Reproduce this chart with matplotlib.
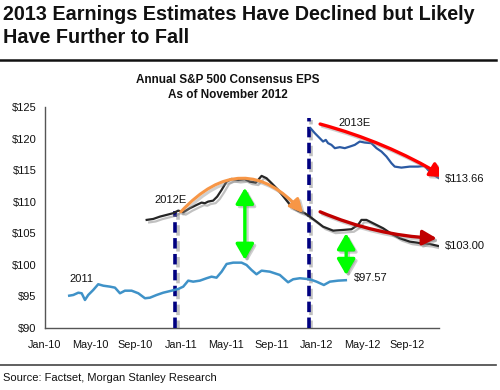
import matplotlib
matplotlib.use("Agg")
import matplotlib.pyplot as plt
import matplotlib.patheffects as pe
import matplotlib.transforms as mtransforms
from matplotlib.patches import FancyArrowPatch
from matplotlib.lines import Line2D

plt.rcParams['font.family'] = ['Liberation Sans', 'DejaVu Sans']

# x = months since Jan-2010
tick_pos = [0, 4, 8, 12, 16, 20, 24, 28, 32]
tick_labels = ["Jan-10", "May-10", "Sep-10", "Jan-11", "May-11", "Sep-11", "Jan-12", "May-12", "Sep-12"]
y_ticks = [90, 95, 100, 105, 110, 115, 120, 125]

eps2011_x = [2.14, 2.50, 2.94, 3.24, 3.53, 3.82, 4.26, 4.70, 5.15, 5.74, 6.18, 6.62, 7.06, 7.65, 8.24,
             8.83, 9.27, 9.86, 10.44, 11.18, 11.77, 12.21, 12.65, 13.09, 13.68, 14.27, 14.71, 15.15,
             15.60, 16.04, 16.62, 17.36, 17.80, 18.24, 18.68, 19.13, 19.86, 20.74, 21.47, 21.92,
             22.51, 23.39, 23.98, 24.63, 25.16, 25.89, 26.57]
eps2011_y = [95.12, 95.23, 95.59, 95.50, 94.44, 95.23, 96.02, 96.93, 96.70, 96.55, 96.39, 95.50, 95.91,
             95.91, 95.50, 94.71, 94.80, 95.23, 95.59, 95.91, 96.18, 96.55, 97.50, 97.34, 97.50, 97.88,
             98.13, 97.97, 98.92, 100.14, 100.35, 100.35, 99.98, 99.19, 98.51, 99.08, 98.92, 98.40,
             97.24, 97.72, 97.88, 97.72, 97.34, 96.81, 97.34, 97.50, 97.57]

eps2012_x = [8.98, 9.56, 10.15, 10.74, 11.32, 11.77, 12.21, 12.80, 13.39, 13.83, 14.12, 14.41, 14.85,
             15.21, 15.60, 16.04, 16.48, 17.06, 17.65, 18.09, 18.62, 18.83, 19.13, 19.57, 20.01, 20.59,
             21.18, 21.77, 22.36, 22.95, 23.39, 23.98, 24.56, 25.45, 26.33, 27.07, 27.65, 27.95, 28.39,
             28.98, 29.86, 30.45, 31.33, 32.22, 33.25, 33.98, 34.71]
eps2012_y = [107.12, 107.27, 107.64, 107.91, 108.18, 108.59, 108.34, 108.97, 109.49, 109.86, 109.76,
             110.02, 110.17, 110.81, 111.87, 113.19, 113.61, 113.45, 113.56, 113.19, 113.03, 113.45,
             114.09, 113.72, 112.93, 111.87, 110.55, 109.22, 108.59, 108.18, 107.64, 106.85, 106.05,
             105.42, 105.53, 105.64, 106.32, 107.12, 107.12, 106.59, 105.80, 105.10, 104.22, 103.68,
             103.42, 103.31, 103.00]

eps2013_x = [23.45, 23.83, 24.27, 24.56, 24.80, 25.00, 25.30, 25.60, 26.04, 26.48, 26.92, 27.36, 27.80,
             28.24, 28.83, 29.28, 29.72, 30.16, 30.60, 30.89, 31.48, 32.22, 32.95, 33.54, 33.83, 34.13,
             34.57, 34.86]
eps2013_y = [121.65, 120.86, 120.06, 119.53, 119.79, 119.27, 119.00, 118.48, 118.64, 118.48, 118.73,
             119.00, 119.53, 119.37, 119.27, 118.48, 117.94, 117.15, 116.10, 115.56, 115.40, 115.56,
             115.56, 115.67, 115.04, 114.52, 113.98, 113.66]

vline_x = [11.5, 23.3]
vline_top = [108.6, 123.3]

W, H = 500, 390
fig = plt.figure(figsize=(W / 100, H / 100), dpi=100)

def fx(px):
    return px / W

def fy(py):
    return 1 - py / H

ax = fig.add_axes([fx(45), fy(328), fx(439) - fx(45), fy(107) - fy(328)])
ax.set_xlim(0, 34.8)
ax.set_ylim(90, 125)

shadow = [pe.SimpleLineShadow(offset=(1.8, -1.8), shadow_color='#777777', alpha=0.45), pe.Normal()]

for vx, vt in zip(vline_x, vline_top):
    ax.plot([vx, vx], [90, vt], color='#000080', lw=2.6, dashes=(2.9, 1.5),
            path_effects=shadow, zorder=3, solid_capstyle='butt', dash_capstyle='butt')

ax.plot(eps2011_x, eps2011_y, color='#3f92c8', lw=1.8, zorder=4)
ax.plot(eps2012_x, eps2012_y, color='#262626', lw=1.6, zorder=4, path_effects=shadow)
ax.plot(eps2013_x, eps2013_y, color='#2b5aa3', lw=1.6, zorder=4)

shadow_tr = ax.transData + mtransforms.ScaledTranslation(1.6 / 72, -1.6 / 72, fig.dpi_scale_trans)

def arrow(p0, p1, color, rad, style, lw, ms=10):
    kw = dict(arrowstyle=style, connectionstyle=f"arc3,rad={rad}", lw=lw,
              mutation_scale=ms, shrinkA=0, shrinkB=0)
    sh = FancyArrowPatch(p0, p1, color='#888888', alpha=0.4, zorder=5, transform=shadow_tr, **kw)
    ax.add_patch(sh)
    a = FancyArrowPatch(p0, p1, color=color, zorder=6, **kw)
    ax.add_patch(a)

# orange arc over 2012E hump
arrow((12.0, 108.4), (22.8, 108.2), '#f79646', -0.55, '-|>,head_length=0.8,head_width=0.4', 2.2)
# red arrows
arrow((24.3, 122.3), (35.3, 113.9), '#ff0000', -0.07, '-|>,head_length=0.85,head_width=0.45', 2.4)
arrow((24.3, 108.4), (34.6, 104.2), '#c00000', 0.09, '-|>,head_length=0.85,head_width=0.45', 2.4)
# green double arrows
arrow((17.65, 112.2), (17.65, 100.8), '#00ff00', 0, '<|-|>,head_length=0.95,head_width=0.55', 2.4)
arrow((26.6, 105.0), (26.6, 98.4), '#00ff00', 0, '<|-|>,head_length=0.95,head_width=0.55', 2.4)

fs = 8
ax.text(2.2, 97.8, "2011", fontsize=fs, va='center', ha='left', color='#111111')
ax.text(11.1, 110.3, "2012E", fontsize=fs, va='center', ha='center', color='#111111')
ax.text(27.3, 122.5, "2013E", fontsize=fs, va='center', ha='center', color='#111111')
ax.text(35.3, 113.66, "$113.66", fontsize=fs, va='center', ha='left', color='#111111', clip_on=False)
ax.text(35.3, 103.0, "$103.00", fontsize=fs, va='center', ha='left', color='#111111', clip_on=False)
ax.text(27.3, 97.9, "$97.57", fontsize=fs, va='center', ha='left', color='#111111')

for s in ['top', 'right']:
    ax.spines[s].set_visible(False)
for s in ['left', 'bottom']:
    ax.spines[s].set_color('#555555')
    ax.spines[s].set_linewidth(1.0)
ax.set_xticks(tick_pos)
ax.set_xticklabels(tick_labels)
ax.set_yticks(y_ticks)
ax.set_yticklabels([f"${v}" for v in y_ticks])
ax.tick_params(axis='x', length=0, pad=9, labelsize=7.8, labelcolor='#111111')
ax.tick_params(axis='y', length=0, pad=6, labelsize=8, labelcolor='#111111')
ax.patch.set_alpha(0)

fig.text(fx(3), fy(20), "2013 Earnings Estimates Have Declined but Likely", fontsize=14.2,
         fontweight='bold', ha='left', va='baseline', color='#111111')
fig.text(fx(3), fy(43), "Have Further to Fall", fontsize=14.2,
         fontweight='bold', ha='left', va='baseline', color='#111111')
fig.text(fx(228), fy(83), "Annual S&P 500 Consensus EPS", fontsize=8.5,
         fontweight='bold', ha='center', va='baseline', color='#111111')
fig.text(fx(228), fy(98), "As of November 2012", fontsize=8.5,
         fontweight='bold', ha='center', va='baseline', color='#111111')
fig.text(fx(3), fy(381), "Source: Factset, Morgan Stanley Research", fontsize=8,
         ha='left', va='baseline', color='#111111')

fig.add_artist(Line2D([0, fx(496)], [fy(60), fy(60)], color='#111111', lw=1.8))
fig.add_artist(Line2D([0, fx(496)], [fy(365), fy(365)], color='#444444', lw=1.2))

fig.savefig("out.png", dpi=100)
